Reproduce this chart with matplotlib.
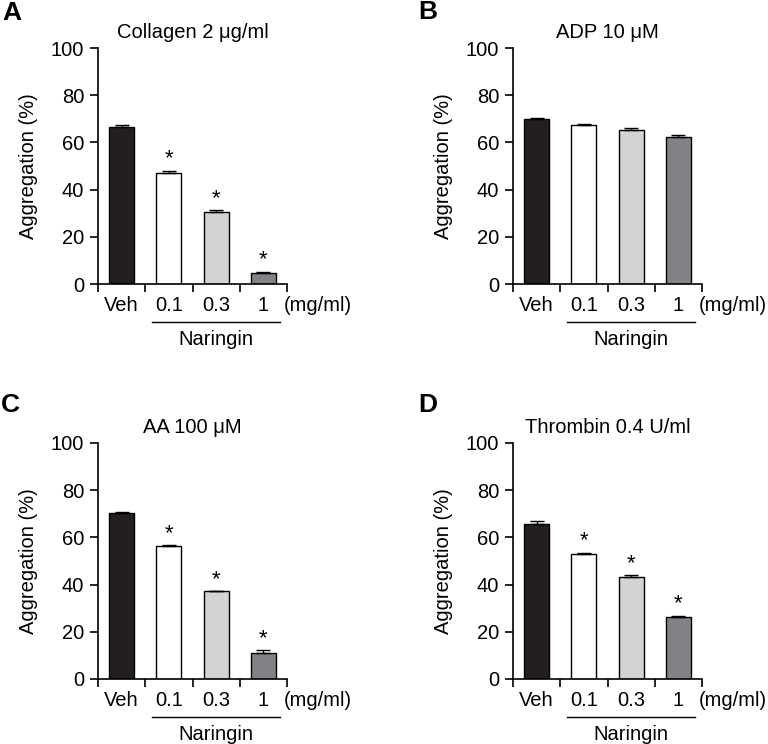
import matplotlib
matplotlib.use("Agg")
import matplotlib.pyplot as plt
import numpy as np

plt.rcParams['font.family'] = ['Liberation Sans', 'DejaVu Sans']

# group labels and colours shared by all panels
groups = ['Veh', '0.1', '0.3', '1']
bar_colors = ['#231f20', '#ffffff', '#d1d3d4', '#808285']

# panel data
titles = ['Collagen 2 \u03bcg/ml', 'ADP 10 \u03bcM', 'AA 100 \u03bcM', 'Thrombin 0.4 U/ml']
letters = ['A', 'B', 'C', 'D']
means_a = [66.5, 47.2, 30.3, 4.6]
errs_a = [0.7, 0.8, 1.0, 0.6]
means_b = [69.9, 67.4, 65.4, 62.1]
errs_b = [0.6, 0.6, 0.7, 1.0]
means_c = [70.2, 56.3, 37.1, 11.2]
errs_c = [0.6, 0.4, 0.2, 0.9]
means_d = [65.8, 53.0, 43.4, 26.4]
errs_d = [1.0, 0.6, 0.6, 0.5]
signif_a = [False, True, True, True]
signif_b = [False, False, False, False]
signif_c = [False, True, True, True]
signif_d = [False, True, True, True]

panels = [
    (means_a, errs_a, signif_a),
    (means_b, errs_b, signif_b),
    (means_c, errs_c, signif_c),
    (means_d, errs_d, signif_d),
]

fig = plt.figure(figsize=(7.68, 7.44), dpi=100)

# axes rectangles in figure fractions
W, H = 768, 744
rects = [
    (98 / W, 1 - 284 / H, 189 / W, 236 / H),
    (513 / W, 1 - 284 / H, 189 / W, 236 / H),
    (98 / W, 1 - 679 / H, 189 / W, 236 / H),
    (513 / W, 1 - 679 / H, 189 / W, 236 / H),
]
letter_pos = [(2 / W, 1 - 13 / H), (418 / W, 1 - 12 / H),
              (1 / W, 1 - 405 / H), (418 / W, 1 - 405 / H)]

fs = 14.5
x = np.arange(len(groups))

for i, (means, errs, signif) in enumerate(panels):
    ax = fig.add_axes(rects[i])
    ax.bar(x, means, width=0.53, color=bar_colors, edgecolor='black', linewidth=1.0, zorder=2)
    ax.errorbar(x, means, yerr=[np.zeros(len(errs)), errs], fmt='none',
                ecolor='black', elinewidth=1.0, capsize=5, capthick=1.0, zorder=3)
    for xi, m, e, s in zip(x, means, errs, signif):
        if s:
            ax.text(xi, m + e + 0.5, '*', ha='center', va='bottom', fontsize=16)

    ax.set_xlim(-0.5, 3.5)
    ax.set_ylim(0, 100)
    ax.set_yticks([0, 20, 40, 60, 80, 100])
    ax.set_xticks([-0.5, 0.5, 1.5, 2.5, 3.5])
    ax.set_xticklabels([])
    ax.spines['top'].set_visible(False)
    ax.spines['right'].set_visible(False)
    ax.spines['left'].set_linewidth(1.2)
    ax.spines['bottom'].set_linewidth(1.2)
    ax.tick_params(axis='both', direction='out', length=6, width=1.2, labelsize=fs, pad=4)
    ax.set_ylabel('Aggregation (%)', fontsize=fs, labelpad=9)
    ax.set_title(titles[i], fontsize=fs, pad=7)

    # group labels below the axis
    trans = ax.get_xaxis_transform()
    for xi, g in zip(x, groups):
        ax.text(xi, -0.093, g, transform=trans, ha='center', va='center', fontsize=fs)
    ax.text(3.43, -0.093, '(mg/ml)', transform=trans, ha='left', va='center', fontsize=fs)
    ax.plot([0.64, 3.35], [-0.161, -0.161], transform=trans, color='black',
            linewidth=1.0, clip_on=False)
    ax.text(2.0, -0.237, 'Naringin', transform=trans, ha='center', va='center', fontsize=fs)

    fig.text(letter_pos[i][0], letter_pos[i][1], letters[i], ha='left', va='center',
             fontsize=19, fontweight='bold')

fig.savefig('out.png', dpi=100)
